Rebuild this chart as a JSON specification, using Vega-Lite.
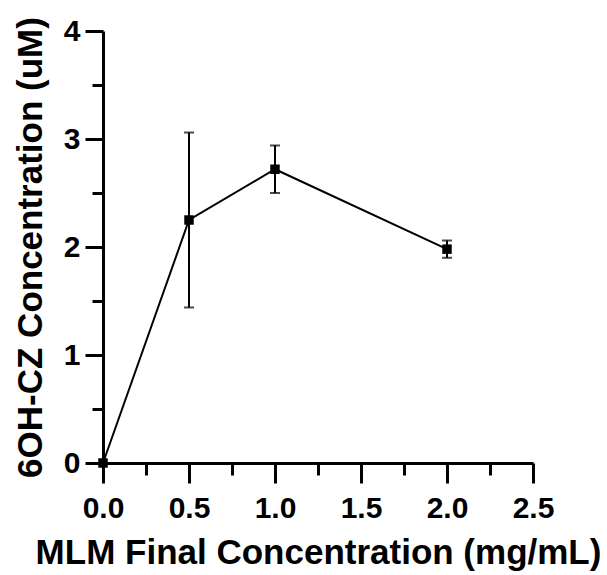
{
  "$schema": "https://vega.github.io/schema/vega-lite/v6.json",
  "width": 430,
  "height": 432,
  "autosize": "none",
  "padding": {"left": 103, "top": 31, "right": 74, "bottom": 112},
  "background": "white",
  "config": {
    "view": {"stroke": null},
    "font": "Liberation Sans"
  },
  "data": {
    "values": [
      {"conc": 0.0, "value": 0.0, "lo": null, "hi": null},
      {"conc": 0.5, "value": 2.25, "lo": 1.44, "hi": 3.06},
      {"conc": 1.0, "value": 2.72, "lo": 2.5, "hi": 2.94},
      {"conc": 2.0, "value": 1.98, "lo": 1.9, "hi": 2.06}
    ]
  },
  "resolve": {"axis": {"x": "independent", "y": "independent"}},
  "layer": [
    {
      "mark": {"type": "line", "color": "black", "strokeWidth": 2},
      "encoding": {
        "x": {
          "field": "conc",
          "type": "quantitative",
          "scale": {"domain": [0, 2.5], "nice": false, "zero": false},
          "axis": {
            "orient": "bottom",
            "title": "MLM Final Concentration (mg/mL)",
            "values": [0, 0.5, 1, 1.5, 2, 2.5],
            "format": ".1f",
            "tickSize": 20,
            "grid": false,
            "domainColor": "black",
            "domainWidth": 3,
            "tickColor": "black",
            "tickWidth": 3,
            "labelColor": "black",
            "labelFont": "Liberation Sans",
            "labelFontWeight": "bold",
            "labelFontSize": 30,
            "titleFont": "Liberation Sans",
            "titleFontWeight": "bold",
            "titleFontSize": 35,
            "titleColor": "black",
            "labelOverlap": false,
            "labelFlush": false,
            "labelBound": false,
            "labelPadding": 10,
            "titlePadding": 12
          }
        },
        "y": {
          "field": "value",
          "type": "quantitative",
          "scale": {"domain": [0, 4], "nice": false},
          "axis": {
            "orient": "left",
            "title": "6OH-CZ Concentration (uM)",
            "values": [0, 1, 2, 3, 4],
            "format": "d",
            "tickSize": 18,
            "grid": false,
            "domainColor": "black",
            "domainWidth": 3,
            "tickColor": "black",
            "tickWidth": 3,
            "labelColor": "black",
            "labelFont": "Liberation Sans",
            "labelFontWeight": "bold",
            "labelFontSize": 30,
            "titleFont": "Liberation Sans",
            "titleFontWeight": "bold",
            "titleFontSize": 35,
            "titleColor": "black",
            "labelOverlap": false,
            "labelFlush": false,
            "labelBound": false,
            "labelPadding": 5,
            "titlePadding": 15
          }
        }
      }
    },
    {
      "mark": {"type": "rule", "color": "black", "strokeWidth": 2},
      "encoding": {
        "x": {
          "field": "conc",
          "type": "quantitative",
          "axis": {
            "orient": "bottom",
            "title": null,
            "values": [0.25, 0.75, 1.25, 1.75, 2.25],
            "labels": false,
            "domain": false,
            "grid": false,
            "tickSize": 12,
            "tickWidth": 3,
            "tickColor": "black"
          }
        },
        "y": {
          "field": "lo",
          "type": "quantitative",
          "axis": {
            "orient": "left",
            "title": null,
            "values": [0.5, 1.5, 2.5, 3.5],
            "labels": false,
            "domain": false,
            "grid": false,
            "tickSize": 11,
            "tickWidth": 3,
            "tickColor": "black"
          }
        },
        "y2": {"field": "hi"}
      }
    },
    {
      "mark": {"type": "tick", "color": "black", "orient": "horizontal", "size": 10, "thickness": 2},
      "encoding": {
        "x": {"field": "conc", "type": "quantitative", "axis": null},
        "y": {"field": "lo", "type": "quantitative", "axis": null}
      }
    },
    {
      "mark": {"type": "tick", "color": "black", "orient": "horizontal", "size": 10, "thickness": 2},
      "encoding": {
        "x": {"field": "conc", "type": "quantitative", "axis": null},
        "y": {"field": "hi", "type": "quantitative", "axis": null}
      }
    },
    {
      "mark": {"type": "point", "shape": "square", "filled": true, "color": "black", "size": 90, "opacity": 1},
      "encoding": {
        "x": {"field": "conc", "type": "quantitative", "axis": null},
        "y": {"field": "value", "type": "quantitative", "axis": null}
      }
    }
  ]
}
